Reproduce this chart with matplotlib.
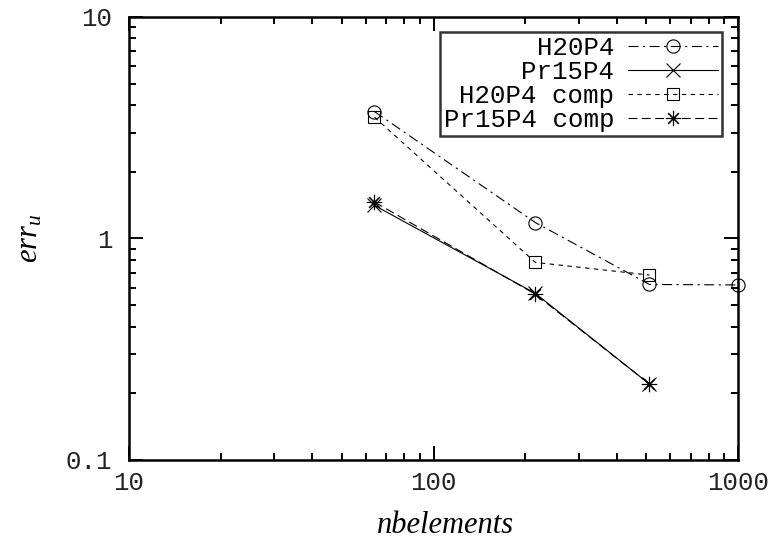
import matplotlib
matplotlib.use("Agg")
import matplotlib.pyplot as plt

# mesh sizes (number of elements) and error values
nbelements = [64, 216, 512, 1000]
h20p4 = [3.74, 1.18, 0.62, 0.617]
pr15p4 = [1.41, 0.565, 0.22]
h20p4_comp = [3.53, 0.78, 0.684]
pr15p4_comp = [1.46, 0.56, 0.22]

x_ticks = [10, 100, 1000]
x_ticklabels = ["10", "100", "1000"]
y_ticks = [0.1, 1, 10]
y_ticklabels = ["0.1", "1", "10"]

plt.rcParams["mathtext.fontset"] = "custom"
plt.rcParams["mathtext.rm"] = "Liberation Serif"
plt.rcParams["mathtext.it"] = "Liberation Serif:italic"

MONO = "Liberation Mono"

fig = plt.figure(figsize=(7.79, 5.43), dpi=100)
ax = fig.add_axes([0.1656, 0.1529, 0.7818, 0.8158])

lw = 0.8
ax.plot(nbelements, h20p4, color="black", lw=lw, dashes=(9, 4, 2, 4),
        marker="o", ms=9.5, mfc="none", mew=lw, label="H20P4", clip_on=False)
ax.plot(nbelements[:3], pr15p4, color="black", lw=lw, linestyle="-",
        marker="x", ms=9.5, mew=lw, label="Pr15P4")
ax.plot(nbelements[:3], h20p4_comp, color="black", lw=lw, dashes=(4, 4),
        marker="s", ms=9, mfc="none", mew=lw, label="H20P4 comp")
ax.plot(nbelements[:3], pr15p4_comp, color="black", lw=lw, dashes=(8, 4),
        marker=(8, 2, 0), ms=11, mew=lw, label="Pr15P4 comp")

ax.set_xscale("log")
ax.set_yscale("log")
ax.set_xlim(10, 1000)
ax.set_ylim(0.1, 10)

ax.set_xticks(x_ticks)
ax.set_xticklabels(x_ticklabels, fontfamily=MONO, fontsize=18.5, color="#222222")
ax.set_yticks(y_ticks)
ax.set_yticklabels(y_ticklabels, fontfamily=MONO, fontsize=18.5, color="#222222")

ax.tick_params(which="both", direction="in", top=True, right=True, width=1.4)
ax.tick_params(which="major", length=10, pad=8)
ax.tick_params(which="minor", length=5)
ax.tick_params(axis="y", which="major", pad=12)
for spine in ax.spines.values():
    spine.set_linewidth(1.8)

ax.set_xlabel("nbelements", fontfamily="Liberation Serif", fontstyle="italic",
              fontsize=22)
ax.set_ylabel("$err_u$", fontsize=22)
ax.xaxis.set_label_coords(0.52, -0.115)
ax.yaxis.set_label_coords(-0.14, 0.50)

leg = ax.legend(loc="upper right", bbox_to_anchor=(0.974, 0.966),
                markerfirst=False, frameon=True, fancybox=False,
                prop={"family": MONO, "size": 18.5}, handlelength=3.5,
                labelspacing=0.0, borderpad=0.15, handletextpad=0.55,
                borderaxespad=0.0)
leg.get_frame().set_edgecolor("black")
leg.get_frame().set_linewidth(1.8)

fig.savefig("out.png", dpi=100)
